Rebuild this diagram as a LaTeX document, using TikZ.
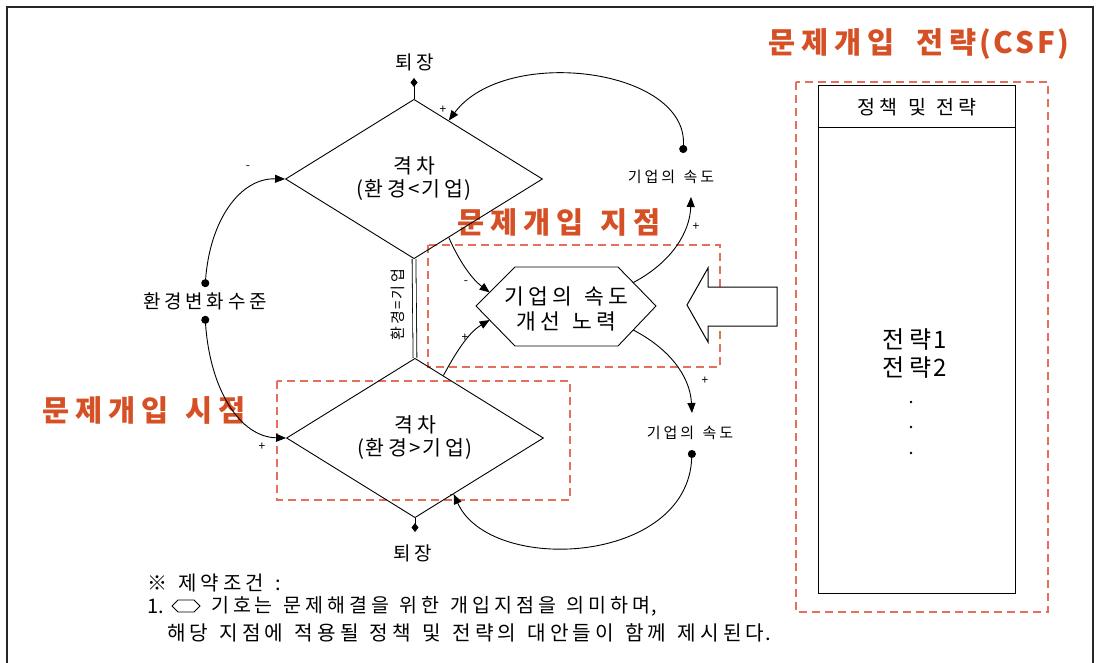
\documentclass[tikz,border=0pt]{standalone}
\usepackage{fontspec}
\setmainfont[WordSpace=2.5]{Noto Sans CJK KR}
\usetikzlibrary{shapes.geometric,arrows.meta,calc}
\definecolor{redtxt}{RGB}{214,80,38}
\definecolor{reddash}{RGB}{228,112,92}
% letter spacing between Hangul syllables
\XeTeXinterchartokenstate=1
\newcount\hgc
\hgc="AC00
\loop
  \XeTeXcharclass\hgc=7
  \advance\hgc by 1
\ifnum\hgc<"D7A4 \repeat
\XeTeXinterchartoks 7 7 = {\hskip0.2em\relax}
\XeTeXinterchartoks 0 7 = {\hskip0.08em\relax}
\XeTeXinterchartoks 7 0 = {\hskip0.08em\relax}
\begin{document}
\begin{tikzpicture}[x=1pt,y=-1pt,
  txt/.style={font=\fontsize{19}{22}\selectfont, inner sep=1pt},
  gap/.style={shape=diamond, draw, line width=0.9pt, minimum width=257pt, minimum height=86pt, inner sep=0pt, align=center, font=\fontsize{20.5}{23}\selectfont},
  sign/.style={font=\fontsize{12}{12}\selectfont, inner sep=0pt},
  link/.style={line width=0.9pt, -{Triangle[length=10pt,width=8pt]}},
  dotlink/.style={line width=0.9pt, {Circle[length=8pt]}-{Triangle[length=10pt,width=8pt]}},
  exitlink/.style={line width=0.9pt, -{Diamond[length=9pt,width=7pt]}},
  zone/.style={draw=reddash, dash pattern=on 8pt off 5pt, line width=1.2pt},
  zonetitle/.style={text=redtxt, font=\fontsize{29.5}{31}\selectfont\bfseries, inner sep=0pt},
]
\useasboundingbox (0,0) rectangle (1100,662);
\fill[white] (0,0) rectangle (1100,662);
% outer frame
\draw[line width=1.2pt, black!85] (7,670) -- (7,7) -- (1093,7) -- (1093,670);

% red dashed zones
\draw[zone] (428,245) rectangle (720,367);
\draw[zone] (277,381) rectangle (570,500);
\draw[zone] (796,82) rectangle (1048,612);
\node[zonetitle] (tpoint) at (559,222) {문제개입 지점};
\node[zonetitle] (ttime) at (144,410) {문제개입 시점};
\node[zonetitle] (tcsf) at (919,44) {문제개입\hspace{22pt}전략(\hspace{2pt}C\hspace{3pt}S\hspace{3pt}F\hspace{2pt})};

% CSF column
\draw[line width=1pt] (818,85) rectangle (1015,593);
\draw[line width=1pt] (818,127) -- (1015,127);
\node[txt, font=\fontsize{19.5}{22}\selectfont] (hdr) at (917,107) {정책 및 전략};
\node[txt, align=center, font=\fontsize{24}{28}\selectfont] (strat) at (915,354) {전략1\\전략2};
\fill (911,402) circle (1.3);
\fill (911,427) circle (1.3);
\fill (911,453) circle (1.3);

% big arrow
\draw[line width=1pt, fill=white] (687,305) -- (708,268) -- (708,287) -- (777,287) -- (777,326) -- (708,326) -- (708,342) -- cycle;

% diamonds
\node[gap] (d1) at (414,179) {격차\\(환경<기업)};
\node[gap] (d2) at (415,438) {격차\\(환경>기업)};

% hexagon
\coordinate (hW) at (476,306);
\coordinate (hNW) at (515,267);
\coordinate (hNE) at (618,267);
\coordinate (hE) at (656,306);
\coordinate (hSE) at (618,346);
\coordinate (hSW) at (515,346);
\draw[line width=0.9pt, fill=white] (hW) -- (hNW) -- (hNE) -- (hE) -- (hSE) -- (hSW) -- cycle;
\node[txt, align=center, font=\fontsize{21.5}{25}\selectfont] (hex) at (566,309) {기업의 속도\\개선 노력};
\coordinate (hA) at ($(hW)!0.35!(hNW)$);
\coordinate (hB) at ($(hW)!0.35!(hSW)$);
\coordinate (hC) at ($(hNE)!0.4!(hE)$);
\coordinate (hD) at ($(hSE)!0.4!(hE)$);

% other nodes
\node[txt] (env) at (205,301) {환경변화수준};
\node[txt, font=\fontsize{15}{20}\selectfont] (spd1) at (671,177) {기업의 속도};
\node[txt, font=\fontsize{15}{20}\selectfont] (spd2) at (690,433) {기업의 속도};
\node[txt] (exit1) at (415,62) {퇴장};
\node[txt] (exit2) at (413,553) {퇴장};
\coordinate (m1) at (414,78);
\coordinate (m2) at (415,532);
\node[inner sep=0pt, rotate=90, font=\fontsize{15}{15}\selectfont] (eq) at (398,305) {환경=기업};

% connectors
\draw[line width=0.8pt, double, double distance=3pt] (d1.south) -- (d2.north);
\draw[exitlink] (d1.north) -- (m1);
\draw[exitlink] (d2.south) -- (m2);
\draw[dotlink] ([yshift=4pt]env.north) .. controls (210,220) and (240,178) .. (d1.west);
\draw[dotlink] ([yshift=-5pt]env.south) .. controls (210,390) and (240,437) .. (d2.west);
\draw[dotlink] ([xshift=12pt,yshift=16pt]spd1.north) .. controls (688,68) and (505,45) .. ($(d1.north)!0.27!(d1.east)$);
\draw[link] ($(d1.south)!0.27!(d1.east)$) .. controls (455,252) and (468,276) .. (hA);
\draw[link] ($(d2.north)!0.22!(d2.east)$) .. controls (452,360) and (466,334) .. (hB);
\draw[link] (hC) .. controls (672,262) and (690,232) .. ([xshift=20pt,yshift=-12pt]spd1.south);
\draw[link] (hD) .. controls (668,348) and (690,375) .. ([xshift=2pt,yshift=12pt]spd2.north);
\draw[dotlink] ([xshift=2pt,yshift=-9pt]spd2.south) .. controls (688,565) and (490,575) .. ($(d2.south)!0.3!(d2.east)$);

% signs
\node[sign] (s1) at (443,110) {+};
\node[sign] (s2) at (248,168) {-};
\node[sign] (s3) at (466,283) {-};
\node[sign] (s4) at (465,338) {+};
\node[sign] (s5) at (696,227) {+};
\node[sign] (s6) at (705,381) {+};
\node[sign] (s7) at (262,447) {+};
\node[sign] (s8) at (452,497) {-};

% note
\node[txt, anchor=west, font=\fontsize{20}{22}\selectfont] (n0) at (146,583) {※ 제약조건 :};
\node[txt, anchor=west, font=\fontsize{20}{22}\selectfont] (n1) at (146,606) {1.};
\draw[line width=0.9pt] (172,606) -- (178,600) -- (194,600) -- (200,606) -- (194,612) -- (178,612) -- cycle;
\node[txt, anchor=west, font=\fontsize{19.5}{22}\selectfont] (n2) at (210,606) {기호는 문제해결을 위한 개입지점을 의미하며,};
\node[txt, anchor=west, font=\fontsize{20.2}{22}\selectfont] (n3) at (166,633) {해당 지점에 적용될 정책 및 전략의 대안들이 함께 제시된다.};
\end{tikzpicture}
\end{document}
